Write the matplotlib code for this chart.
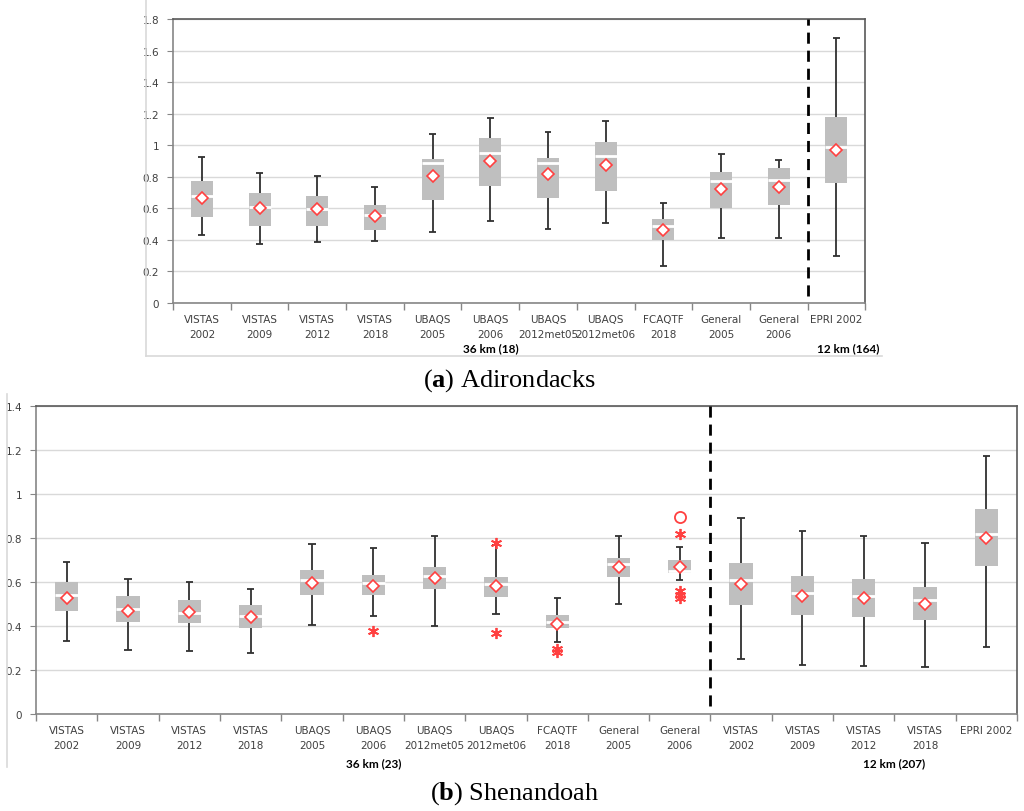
import numpy as np
import matplotlib
matplotlib.use('Agg')
import matplotlib.pyplot as plt
from matplotlib.lines import Line2D
import matplotlib.transforms as mtransforms

plt.rcParams['mathtext.fontset'] = 'custom'
plt.rcParams['mathtext.rm'] = 'Liberation Serif'
plt.rcParams['mathtext.bf'] = 'Liberation Serif:bold'

# ---- (a) Adirondacks ----
top_labels = ['VISTAS\n2002', 'VISTAS\n2009', 'VISTAS\n2012', 'VISTAS\n2018',
              'UBAQS\n2005', 'UBAQS\n2006', 'UBAQS\n2012met05', 'UBAQS\n2012met06',
              'FCAQTF\n2018', 'General\n2005', 'General\n2006', 'EPRI 2002']
top_low = [0.431, 0.374, 0.387, 0.391, 0.448, 0.522, 0.467, 0.505, 0.232, 0.410, 0.410, 0.300]
top_q1 = [0.543, 0.486, 0.490, 0.465, 0.655, 0.740, 0.663, 0.712, 0.401, 0.602, 0.623, 0.758]
top_med = [0.680, 0.606, 0.596, 0.558, 0.885, 0.953, 0.887, 0.934, 0.486, 0.771, 0.778, 0.991]
top_q3 = [0.775, 0.695, 0.676, 0.619, 0.913, 1.044, 0.917, 1.020, 0.535, 0.828, 0.856, 1.179]
top_high = [0.923, 0.824, 0.805, 0.737, 1.071, 1.170, 1.086, 1.156, 0.636, 0.947, 0.906, 1.680]
top_mean = [0.668, 0.600, 0.594, 0.554, 0.805, 0.900, 0.816, 0.877, 0.465, 0.725, 0.735, 0.972]

# ---- (b) Shenandoah ----
bot_labels = ['VISTAS\n2002', 'VISTAS\n2009', 'VISTAS\n2012', 'VISTAS\n2018',
              'UBAQS\n2005', 'UBAQS\n2006', 'UBAQS\n2012met05', 'UBAQS\n2012met06',
              'FCAQTF\n2018', 'General\n2005', 'General\n2006',
              'VISTAS\n2002', 'VISTAS\n2009', 'VISTAS\n2012', 'VISTAS\n2018', 'EPRI 2002']
bot_low = [0.331, 0.291, 0.287, 0.278, 0.406, 0.444, 0.400, 0.454, 0.325, 0.502, 0.610,
           0.250, 0.224, 0.220, 0.215, 0.303]
bot_q1 = [0.466, 0.417, 0.413, 0.390, 0.540, 0.540, 0.567, 0.532, 0.390, 0.622, 0.640,
          0.497, 0.449, 0.440, 0.426, 0.673]
bot_med = [0.541, 0.476, 0.461, 0.444, 0.610, 0.596, 0.626, 0.592, 0.417, 0.680, 0.648,
           0.607, 0.551, 0.537, 0.519, 0.818]
bot_q3 = [0.598, 0.534, 0.516, 0.497, 0.654, 0.631, 0.670, 0.622, 0.450, 0.707, 0.699,
          0.687, 0.626, 0.613, 0.578, 0.931]
bot_high = [0.693, 0.614, 0.599, 0.569, 0.771, 0.754, 0.811, 0.766, 0.529, 0.811, 0.758,
            0.890, 0.830, 0.811, 0.775, 1.172]
bot_mean = [0.529, 0.470, 0.463, 0.440, 0.596, 0.581, 0.619, 0.581, 0.410, 0.666, 0.670,
            0.590, 0.537, 0.525, 0.502, 0.798]

# outliers (category index, value)
star_idx = [5, 7, 7, 8, 8, 10, 10, 10, 10]
star_val = [0.375, 0.778, 0.367, 0.296, 0.281, 0.816, 0.558, 0.543, 0.528]
circle_idx = [10]
circle_val = [0.895]

BOX = '#bfbfbf'
RED = '#ff4040'
WHISK = '#303030'


def draw_panel(ax, labels, low, q1, med, q3, high, mean, ymax, split, groups):
    '''box plots drawn Excel style: grey box, white median gap, red diamond mean'''
    x = np.arange(len(labels))
    w = 0.38
    cap = 0.06

    ax.set_axisbelow(True)
    ax.yaxis.grid(True, color='#d9d9d9', lw=1.0)

    q1 = np.array(q1)
    q3 = np.array(q3)
    ax.bar(x, q3 - q1, bottom=q1, width=w, color=BOX, zorder=2)
    ax.hlines(med, x - w / 2, x + w / 2, color='white', lw=2.0, zorder=3)

    ax.vlines(x, low, q1, color=WHISK, lw=1.3, zorder=1.5)
    ax.vlines(x, q3, high, color=WHISK, lw=1.3, zorder=1.5)
    ax.hlines(low, x - cap, x + cap, color=WHISK, lw=1.3, zorder=1.5)
    ax.hlines(high, x - cap, x + cap, color=WHISK, lw=1.3, zorder=1.5)

    ax.plot(x, mean, ls='none', marker='D', ms=6, mfc='white', mec=RED, mew=1.2, zorder=4)

    ax.axvline(split - 0.5, ymin=0.025, ymax=1, color='black', lw=2, ls=(0, (4, 2.5)), zorder=5)

    ax.set_xlim(-0.5, len(labels) - 0.5)
    ax.set_ylim(0, ymax)
    ticks = np.arange(0, ymax + 0.01, 0.2)
    ax.set_yticks(ticks)
    ax.set_yticklabels(['%g' % round(v, 1) for v in ticks])

    ax.set_xticks(x)
    ax.set_xticklabels(labels, fontsize=7.5, color='#404040', linespacing=1.6)
    ax.set_xticks(np.arange(-0.5, len(labels)), minor=True)
    ax.tick_params(axis='x', which='major', length=0, pad=8)
    ax.tick_params(axis='x', which='minor', length=5, color='#868686', width=1)
    ax.tick_params(axis='y', length=4, color='#868686', labelsize=7.5, labelcolor='#404040', pad=6)

    for s in ['left', 'bottom']:
        ax.spines[s].set_color('#868686')
        ax.spines[s].set_linewidth(1.2)
    for s in ['top', 'right']:
        ax.spines[s].set_color('#595959')
        ax.spines[s].set_linewidth(1.2)

    trans = mtransforms.blended_transform_factory(ax.transData, ax.transAxes)
    for gx, gtxt in groups:
        ax.text(gx, -0.158, gtxt, transform=trans, ha='center', va='center',
                fontsize=8.5, fontweight='bold', family='Lato', color='black')


fig = plt.figure(figsize=(10.24, 8.12), dpi=100)

ax1 = fig.add_axes([0.169, 0.6256, 0.676, 0.3498])
draw_panel(ax1, top_labels, top_low, top_q1, top_med, top_q3, top_high, top_mean,
           1.8, 11, [(5.0, '36 km (18)'), (11.2, '12 km (164)')])

ax2 = fig.add_axes([0.0352, 0.1195, 0.958, 0.3793])
draw_panel(ax2, bot_labels, bot_low, bot_q1, bot_med, bot_q3, bot_high, bot_mean,
           1.4, 11, [(5.0, '36 km (23)'), (13.5, '12 km (207)')])
ax2.plot(star_idx, star_val, ls='none', marker=(6, 2, 0), ms=8, mec=RED, mew=1.3, zorder=4)
ax2.plot(circle_idx, circle_val, ls='none', marker='o', ms=8, mfc='none', mec=RED, mew=1.3, zorder=4)

# outer chart-area borders
fig.add_artist(Line2D([146 / 1024, 146 / 1024], [1, 1 - 357 / 812], color='#d9d9d9', lw=1.2))
fig.add_artist(Line2D([146 / 1024, 882 / 1024], [1 - 357 / 812, 1 - 357 / 812], color='#d9d9d9', lw=1.2))
fig.add_artist(Line2D([7 / 1024, 7 / 1024], [1 - 395 / 812, 1 - 768 / 812], color='#d9d9d9', lw=1.2))

# captions
fig.text(510 / 1024, 1 - 381 / 812, r'($\mathbf{a}$) Adirondacks', ha='center', va='center',
         fontsize=19, family='Liberation Serif')
fig.text(515 / 1024, 1 - 794 / 812, r'($\mathbf{b}$) Shenandoah', ha='center', va='center',
         fontsize=19, family='Liberation Serif')

fig.savefig('out.png', dpi=100)
